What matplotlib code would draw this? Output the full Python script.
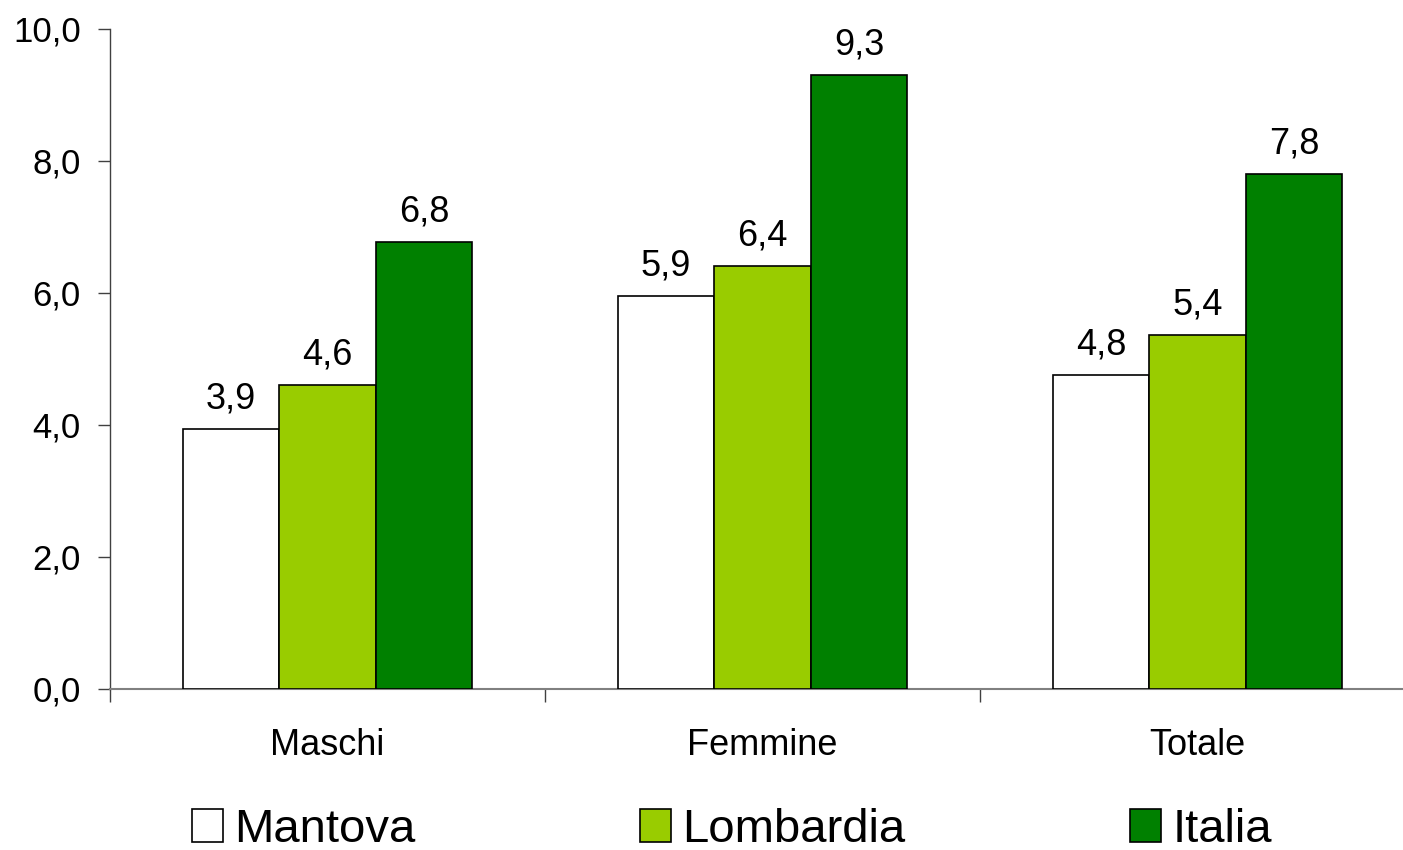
import numpy as np
import matplotlib.pyplot as plt

plt.rcParams['font.family'] = ['Liberation Sans', 'DejaVu Sans']

categorie = ['Maschi', 'Femmine', 'Totale']
serie = ['Mantova', 'Lombardia', 'Italia']
mantova = [3.94, 5.95, 4.76]
lombardia = [4.6, 6.41, 5.36]
italia = [6.77, 9.3, 7.8]
etichette = [['3,9', '5,9', '4,8'],
             ['4,6', '6,4', '5,4'],
             ['6,8', '9,3', '7,8']]
colori = ['#FFFFFF', '#99CC00', '#008000']

fig = plt.figure(figsize=(14.03, 8.5), dpi=100)
# axis runs past the right edge of the picture, like the original
ax = fig.add_axes([110/1403, 1 - 689/850, 1305/1403, 660/850])

x = np.arange(len(categorie))
w = 0.222
valori = [mantova, lombardia, italia]
for i, v in enumerate(valori):
    b = ax.bar(x + (i - 1)*w, v, w, color=colori[i], edgecolor='black',
               linewidth=1.2, label=serie[i], zorder=3)
    ax.bar_label(b, labels=etichette[i], padding=9, fontsize=26)

ax.set_xlim(-0.5, 2.5)
ax.set_ylim(0, 10)
ax.set_yticks(np.arange(0, 10.1, 2))
ax.set_yticklabels([f'{t:.1f}'.replace('.', ',') for t in np.arange(0, 10.1, 2)])
ax.set_xticks(x)
ax.set_xticklabels(categorie)
ax.set_xticks([-0.5, 0.5, 1.5], minor=True)
ax.tick_params(axis='x', which='major', length=0, pad=28, labelsize=26)
ax.tick_params(axis='x', which='minor', length=9, width=1, color='#404040', direction='out')
ax.tick_params(axis='y', length=9, width=1, color='#404040', pad=12, labelsize=25)

for s in ['top', 'right']:
    ax.spines[s].set_visible(False)
ax.spines['left'].set_color('#404040')
ax.spines['bottom'].set_color('#808080')
ax.spines['left'].set_linewidth(1)
ax.spines['bottom'].set_linewidth(1.5)

fig.legend(loc='lower left', bbox_to_anchor=(192/1403, -0.002), ncol=3,
           frameon=False, fontsize=34, handlelength=0.65, handleheight=0.7,
           handletextpad=0.25, columnspacing=4.75, borderpad=0, borderaxespad=0)

fig.savefig('out.png', dpi=100)
